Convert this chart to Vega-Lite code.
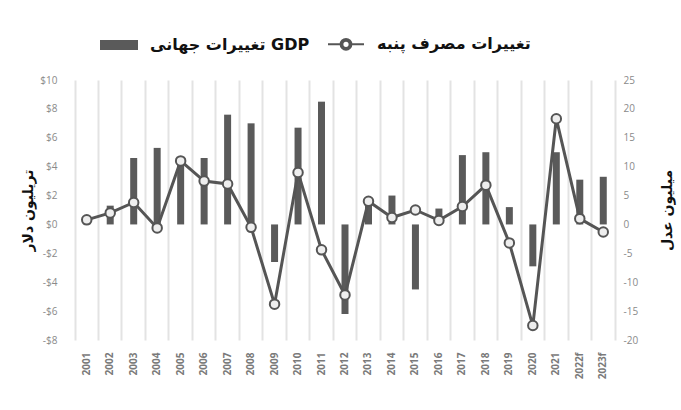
{
  "$schema": "https://vega.github.io/schema/vega-lite/v6.json",
  "width": 540,
  "height": 260,
  "autosize": {"type": "none"},
  "padding": {"left": 75, "top": 80, "right": 66, "bottom": 70},
  "background": "white",
  "config": {"view": {"stroke": null}, "axis": {"labelOverlap": false, "labelBound": false}},
  "data": {"values": [
    {"year": "2001", "gdp": 0.4, "cotton": 0.8},
    {"year": "2002", "gdp": 1.3, "cotton": 2.0},
    {"year": "2003", "gdp": 4.6, "cotton": 3.8},
    {"year": "2004", "gdp": 5.3, "cotton": -0.6},
    {"year": "2005", "gdp": 4.5, "cotton": 11.0},
    {"year": "2006", "gdp": 4.6, "cotton": 7.5},
    {"year": "2007", "gdp": 7.6, "cotton": 7.0},
    {"year": "2008", "gdp": 7.0, "cotton": -0.5},
    {"year": "2009", "gdp": -2.6, "cotton": -13.8},
    {"year": "2010", "gdp": 6.7, "cotton": 9.0},
    {"year": "2011", "gdp": 8.5, "cotton": -4.4},
    {"year": "2012", "gdp": -6.2, "cotton": -12.2},
    {"year": "2013", "gdp": 1.6, "cotton": 4.0},
    {"year": "2014", "gdp": 2.0, "cotton": 1.2},
    {"year": "2015", "gdp": -4.5, "cotton": 2.5},
    {"year": "2016", "gdp": 1.1, "cotton": 0.7},
    {"year": "2017", "gdp": 4.8, "cotton": 3.1},
    {"year": "2018", "gdp": 5.0, "cotton": 6.8},
    {"year": "2019", "gdp": 1.2, "cotton": -3.2},
    {"year": "2020", "gdp": -2.9, "cotton": -17.5},
    {"year": "2021", "gdp": 5.0, "cotton": 18.3},
    {"year": "2022f", "gdp": 3.1, "cotton": 1.0},
    {"year": "2023f", "gdp": 3.3, "cotton": -1.3}
  ]},
  "encoding": {
    "x": {
      "field": "year", "type": "nominal", "sort": null,
      "scale": {"paddingInner": 0, "paddingOuter": 0},
      "axis": {
        "title": null, "labelAngle": -90, "labelPadding": 12, "ticks": false, "domain": false,
        "labelColor": "#7a7a7a", "labelFontSize": 10, "labelFontWeight": "bold", "labelFont": "Open Sans",
        "grid": true, "gridColor": "#e3e3e3", "gridWidth": 2, "bandPosition": 0
      }
    }
  },
  "layer": [
    {
      "layer": [
        {
          "mark": {"type": "rule", "color": "#9a9a9a", "strokeWidth": 2.5},
          "encoding": {"y": {"datum": 0, "type": "quantitative",
              "scale": {"domain": [-8, 10], "nice": false, "zero": false},
              "axis": {
                "orient": "left", "values": [-8, -6, -4, -2, 0, 2, 4, 6, 8, 10],
                "labelExpr": "datum.value < 0 ? '-$' + abs(datum.value) : '$' + datum.value",
                "grid": false, "ticks": false, "domain": false, "labelPadding": 18,
                "labelColor": "#8a8a8a", "labelFontSize": 10, "labelFont": "Open Sans",
                "title": "تریلیون دلار", "titleFont": "DejaVu Sans", "titleFontSize": 14, "titleFontWeight": "bold",
                "titleColor": "#111", "titleAngle": -90, "titleX": -47, "titleY": 130, "titleBaseline": "middle", "titleAlign": "center"
              }}}
        },
        {
          "mark": {"type": "bar", "size": 7, "color": "#5a5a5a"},
          "encoding": {
            "y": {
              "field": "gdp", "type": "quantitative",
              "scale": {"domain": [-8, 10], "nice": false, "zero": false},
              "axis": {
                "orient": "left", "values": [-8, -6, -4, -2, 0, 2, 4, 6, 8, 10],
                "labelExpr": "datum.value < 0 ? '-$' + abs(datum.value) : '$' + datum.value",
                "grid": false, "ticks": false, "domain": false, "labelPadding": 18,
                "labelColor": "#8a8a8a", "labelFontSize": 10, "labelFont": "Open Sans",
                "title": "تریلیون دلار", "titleFont": "DejaVu Sans", "titleFontSize": 14, "titleFontWeight": "bold",
                "titleColor": "#111", "titleAngle": -90, "titleX": -47, "titleY": 130, "titleBaseline": "middle", "titleAlign": "center"
              }
            },
            "color": {
              "datum": "تغییرات جهانی GDP", "type": "nominal",
              "scale": {"domain": ["تغییرات جهانی GDP", "تغییرات مصرف پنبه"], "range": ["#5a5a5a", "#555555"]},
              "legend": {
                "title": null, "orient": "none", "direction": "horizontal", "legendX": 25, "legendY": -55,
                "labelFont": "DejaVu Sans", "labelFontSize": 16, "labelFontWeight": "bold", "labelColor": "#111",
                "symbolSize": 1296, "labelOffset": 12, "columnPadding": 14, "symbolStrokeWidth": 2,
                "encode": {
                  "symbols": {"update": {
                    "shape": {"signal": "datum.value === 'تغییرات جهانی GDP' ? 'M-1,-0.22H1V0.22H-1Z' : 'M-1,0H-0.3M0.3,0H1M-0.3,0A0.3,0.3 0 1,0 0.3,0A0.3,0.3 0 1,0 -0.3,0ZM-0.2,0A0.2,0.2 0 1,1 0.2,0A0.2,0.2 0 1,1 -0.2,0Z'"},
                    "fill": {"signal": "datum.value === 'تغییرات جهانی GDP' ? '#5a5a5a' : '#eeeeee'"},
                    "stroke": {"value": "#555555"},
                    "strokeWidth": {"value": 2},
                    "opacity": {"value": 1},
                    "fillOpacity": {"value": 1}
                  }}
                }
              }
            }
          }
        }
      ]
    },
    {
      "layer": [
        {
          "mark": {"type": "line", "strokeWidth": 3, "color": "#555555"},
          "encoding": {
            "y": {
              "field": "cotton", "type": "quantitative",
              "scale": {"domain": [-20, 25], "nice": false, "zero": false},
              "axis": {
                "orient": "right", "values": [-20, -15, -10, -5, 0, 5, 10, 15, 20, 25],
                "labelExpr": "'' + datum.value",
                "grid": false, "ticks": false, "domain": true, "domainColor": "#e3e3e3", "domainWidth": 2,
                "labelPadding": 8, "labelColor": "#8a8a8a", "labelFontSize": 10, "labelFont": "Open Sans",
                "title": "میلیون عدل", "titleFont": "DejaVu Sans", "titleFontSize": 14, "titleFontWeight": "bold",
                "titleColor": "#111", "titleAngle": -90, "titleX": 52, "titleY": 130, "titleBaseline": "middle", "titleAlign": "center"
              }
            },
            "color": {"datum": "تغییرات مصرف پنبه", "type": "nominal"}
          }
        },
        {
          "mark": {"type": "point", "shape": "circle", "filled": true, "fill": "#eeeeee", "stroke": "#555555", "strokeWidth": 2, "size": 90, "opacity": 1},
          "encoding": {"y": {"field": "cotton", "type": "quantitative",
              "scale": {"domain": [-20, 25], "nice": false, "zero": false},
              "axis": {
                "orient": "right", "values": [-20, -15, -10, -5, 0, 5, 10, 15, 20, 25],
                "labelExpr": "'' + datum.value",
                "grid": false, "ticks": false, "domain": true, "domainColor": "#e3e3e3", "domainWidth": 2,
                "labelPadding": 8, "labelColor": "#8a8a8a", "labelFontSize": 10, "labelFont": "Open Sans",
                "title": "میلیون عدل", "titleFont": "DejaVu Sans", "titleFontSize": 14, "titleFontWeight": "bold",
                "titleColor": "#111", "titleAngle": -90, "titleX": 52, "titleY": 130, "titleBaseline": "middle", "titleAlign": "center"
              }}}
        }
      ]
    }
  ],
  "resolve": {"scale": {"y": "independent"}}
}
